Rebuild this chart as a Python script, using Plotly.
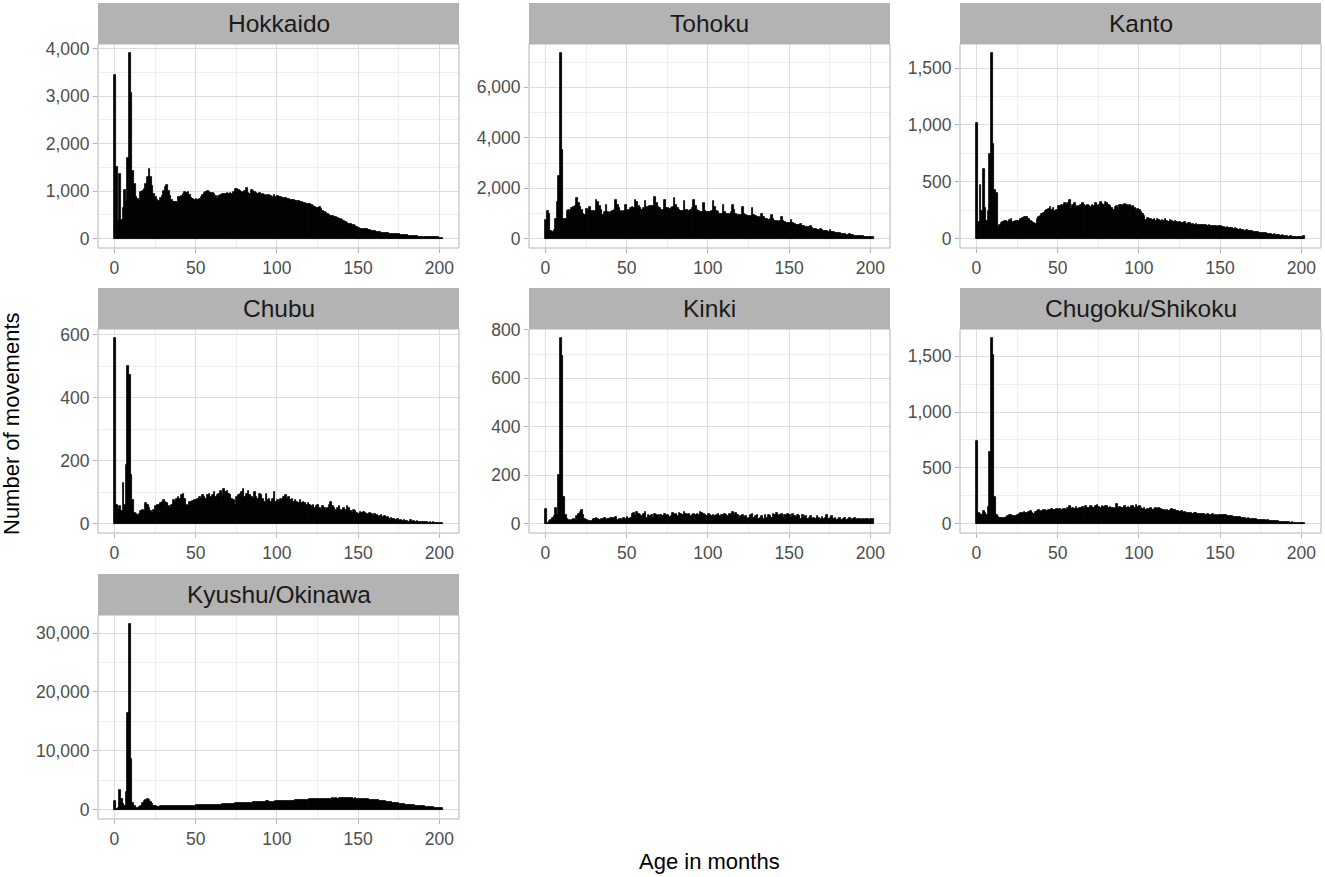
import plotly.graph_objects as go

# months of age, one bar per month (bin [m, m+1))
ages = list(range(202))

regions = ["Hokkaido", "Tohoku", "Kanto", "Chubu", "Kinki",
           "Chugoku/Shikoku", "Kyushu/Okinawa"]

hokkaido = [
    3440, 1510, 380, 1370, 390, 650, 1030, 800, 1700, 3900,
    3060, 1420, 1150, 880, 840, 800, 980, 1000, 1050, 1150,
    1300, 1460, 1300, 1100, 950, 870, 820, 800, 850, 900,
    1000, 1080, 1120, 1000, 900, 820, 780, 770, 780, 870,
    880, 900, 940, 980, 960, 990, 930, 850, 830, 820,
    830, 820, 840, 880, 920, 960, 980, 1000, 990, 970,
    960, 950, 900, 830, 900, 930, 950, 940, 950, 960,
    940, 960, 950, 980, 1050, 1040, 1020, 1000, 980, 960,
    1000, 1070, 970, 950, 1020, 1000, 980, 960, 950, 960,
    930, 940, 920, 900, 930, 910, 890, 880, 920, 870,
    890, 880, 870, 860, 850, 850, 840, 830, 820, 815,
    810, 800, 790, 790, 780, 770, 760, 760, 740, 730,
    720, 700, 690, 660, 650, 640, 660, 620, 590, 570,
    550, 530, 500, 480, 470, 460, 450, 440, 420, 410,
    400, 380, 360, 340, 320, 300, 290, 280, 260, 240,
    220, 210, 205, 200, 195, 195, 190, 180, 170, 165,
    160, 150, 145, 140, 130, 125, 120, 115, 112, 110,
    110, 105, 100, 98, 95, 90, 85, 80, 75, 72,
    70, 65, 62, 58, 55, 50, 48, 45, 42, 40,
    38, 36, 35, 34, 33, 32, 32, 30, 30, 28,
    25, 18,
]

tohoku = [
    740, 1100, 1000, 320, 270, 330, 780, 1460, 2500, 7350,
    3500, 800, 790, 1100, 1150, 1100, 1200, 1250, 1300, 1620,
    1400, 1250, 1150, 1000, 950, 1180, 1100, 1250, 1100, 1080,
    1100, 1550, 1450, 1300, 1150, 950, 1050, 1350, 1050, 1000,
    1050, 1100, 1150, 1550, 1350, 1200, 1100, 1050, 1100, 1350,
    1100, 1150, 1200, 1250, 1200, 1550, 1450, 1300, 1200, 1150,
    1200, 1500, 1250, 1250, 1300, 1280, 1300, 1650, 1400, 1250,
    1200, 1150, 1150, 1550, 1200, 1200, 1180, 1200, 1250, 1600,
    1350, 1200, 1150, 1100, 1100, 1500, 1150, 1150, 1100, 1150,
    1200, 1550, 1300, 1150, 1100, 1050, 1050, 1400, 1100, 1050,
    1050, 1050, 1100, 1500, 1250, 1100, 1050, 1000, 1000, 1350,
    1050, 1000, 1000, 1000, 1050, 1350, 1150, 1000, 950, 950,
    950, 1250, 1000, 950, 900, 900, 900, 1200, 950, 900,
    850, 850, 820, 1000, 850, 800, 780, 750, 780, 950,
    800, 720, 700, 680, 700, 880, 700, 650, 630, 620,
    620, 750, 620, 580, 560, 540, 540, 600, 520, 500,
    480, 470, 460, 500, 430, 400, 380, 360, 350, 400,
    340, 320, 300, 290, 280, 330, 270, 250, 230, 220,
    210, 240, 200, 180, 170, 160, 150, 170, 140, 130,
    120, 110, 100, 110, 95, 90, 85, 80, 75, 70,
    65, 60,
]

kanto = [
    1013, 143, 473, 240, 615, 274, 158, 245, 741, 1630,
    835, 429, 405, 105, 120, 140, 150, 155, 160, 150,
    165, 170, 150, 150, 155, 160, 160, 170, 180, 190,
    195, 190, 175, 160, 150, 140, 130, 175, 190, 200,
    220, 230, 245, 250, 260, 275, 255, 270, 240, 250,
    285, 290, 300, 290, 310, 300, 315, 340, 260, 300,
    310, 270, 290, 280, 300, 310, 295, 290, 300, 285,
    280, 300, 290, 310, 290, 300, 320, 305, 300, 325,
    310, 300, 290, 270, 250, 280, 290, 270, 300, 295,
    290, 305, 300, 290, 300, 280, 290, 270, 255, 260,
    250, 235, 220, 200, 165, 180, 175, 170, 165, 170,
    160, 170, 165, 160, 165, 155, 170, 160, 150, 165,
    155, 145, 160, 150, 140, 145, 135, 140, 145, 130,
    140, 135, 125, 130, 120, 130, 125, 120, 125, 118,
    125, 118, 112, 120, 110, 115, 108, 112, 105, 110,
    108, 100, 104, 96, 100, 95, 90, 94, 86, 90,
    82, 80, 84, 76, 78, 70, 74, 66, 70, 64,
    60, 62, 56, 58, 52, 50, 54, 46, 48, 44,
    40, 42, 36, 38, 32, 30, 33, 27, 29, 24,
    22, 24, 19, 21, 16, 16, 18, 14, 15, 13,
    15, 25,
]

chubu = [
    588, 60, 45, 55, 40, 130, 60, 185, 500, 470,
    155, 75, 35, 30, 28, 30, 40, 45, 40, 65,
    60, 50, 40, 35, 45, 55, 58, 60, 65, 70,
    75, 70, 65, 55, 50, 60, 75, 70, 80, 85,
    80, 90, 95, 80, 60, 55, 70, 70, 72, 75,
    75, 80, 85, 80, 90, 85, 80, 90, 95, 85,
    90, 100, 85, 90, 95, 105, 90, 110, 100, 105,
    95, 90, 80, 75, 60, 85, 90, 95, 100, 110,
    85, 95, 105, 90, 85, 80, 100, 85, 80, 95,
    90, 80, 70, 95, 75, 80, 70, 80, 100, 70,
    75, 70, 80, 75, 85, 90, 80, 85, 75, 80,
    70, 75, 70, 65, 75, 65, 70, 65, 60, 65,
    60, 55, 60, 50, 55, 60, 50, 45, 55, 50,
    45, 50, 60, 70, 55, 50, 45, 50, 55, 45,
    40, 50, 45, 55, 50, 40, 35, 45, 40, 35,
    30, 38, 35, 38, 35, 30, 28, 35, 30, 25,
    30, 28, 22, 25, 28, 20, 24, 18, 22, 16,
    18, 14, 16, 12, 15, 10, 12, 9, 11, 8,
    10, 7, 12, 6, 10, 5, 8, 5, 7, 4,
    6, 4, 5, 3, 6, 3, 4, 2, 3, 2,
    3, 2,
]

kinki = [
    60, 5, 10, 15, 25, 30, 65, 35, 200, 765,
    690, 110, 35, 20, 15, 12, 15, 18, 15, 30,
    40, 50, 55, 35, 20, 15, 10, 12, 10, 20,
    18, 22, 20, 15, 20, 18, 25, 15, 20, 18,
    22, 25, 20, 28, 15, 20, 18, 15, 25, 20,
    28, 20, 25, 40, 45, 30, 48, 40, 35, 30,
    42, 50, 25, 35, 30, 38, 25, 40, 35, 30,
    35, 38, 32, 40, 30, 35, 28, 30, 45, 35,
    42, 30, 45, 40, 35, 48, 40, 38, 42, 30,
    35, 40, 38, 42, 35, 50, 45, 40, 35, 30,
    40, 35, 30, 38, 32, 35, 40, 30, 35, 38,
    42, 35, 30, 40, 35, 48, 30, 45, 35, 25,
    30, 35, 25, 30, 20, 25, 35, 40, 25, 30,
    35, 20, 25, 30, 20, 35, 25, 38, 30, 25,
    40, 35, 45, 30, 35, 40, 25, 35, 30, 40,
    35, 25, 40, 30, 25, 35, 30, 20, 35, 25,
    30, 20, 25, 30, 20, 25, 20, 30, 25, 20,
    28, 20, 25, 35, 20, 25, 30, 20, 25, 15,
    20, 25, 15, 20, 25, 15, 20, 25, 15, 20,
    22, 15, 20, 18, 15, 20, 15, 18, 20, 15,
    20, 18,
]

chugoku_shikoku = [
    740, 100, 90, 80, 110, 100, 80, 150, 640, 1660,
    1510, 240, 80, 60, 50, 55, 50, 55, 60, 70,
    75, 80, 70, 65, 70, 80, 85, 95, 100, 105,
    100, 95, 105, 110, 95, 90, 105, 110, 120, 105,
    115, 120, 125, 115, 120, 125, 130, 120, 125, 130,
    120, 130, 125, 135, 130, 125, 140, 155, 130, 145,
    135, 150, 130, 145, 140, 150, 135, 155, 145, 140,
    155, 150, 145, 160, 170, 150, 145, 155, 150, 160,
    155, 145, 150, 140, 145, 135, 175, 140, 150, 145,
    140, 155, 145, 150, 140, 155, 160, 145, 165, 150,
    160, 145, 135, 140, 125, 135, 130, 140, 125, 135,
    140, 130, 140, 135, 125, 120, 115, 120, 115, 125,
    130, 125, 120, 115, 110, 105, 110, 100, 105, 100,
    95, 100, 95, 90, 95, 100, 90, 85, 90, 85,
    90, 80, 85, 75, 80, 85, 70, 75, 70, 75,
    80, 78, 75, 76, 72, 70, 68, 70, 64, 62,
    60, 56, 58, 52, 50, 52, 46, 48, 44, 42,
    40, 38, 40, 36, 34, 36, 32, 30, 28, 30,
    26, 27, 24, 22, 20, 22, 18, 17, 15, 16,
    14, 13, 12, 11, 12, 10, 9, 8, 7, 6,
    6, 5,
]

kyushu_okinawa = [
    1400, 150, 300, 3400, 1800, 900, 700, 3000, 16500, 31500,
    8700, 1100, 600, 300, 250, 400, 700, 1100, 1500, 1700,
    1750, 1650, 1300, 900, 650, 550, 500, 520, 550, 600,
    580, 620, 650, 610, 580, 550, 560, 590, 600, 580,
    600, 630, 610, 630, 620, 650, 640, 660, 690, 700,
    720, 750, 740, 760, 790, 800, 780, 810, 800, 830,
    830, 850, 830, 860, 880, 870, 900, 930, 940, 950,
    980, 1010, 1020, 1030, 1070, 1080, 1090, 1110, 1130, 1120,
    1150, 1160, 1180, 1210, 1220, 1230, 1260, 1290, 1300, 1310,
    1340, 1370, 1380, 1420, 1400, 1370, 1360, 1390, 1380, 1400,
    1400, 1420, 1410, 1440, 1460, 1450, 1480, 1510, 1520, 1530,
    1560, 1590, 1600, 1610, 1650, 1660, 1670, 1710, 1720, 1730,
    1760, 1790, 1800, 1810, 1850, 1890, 1900, 1880, 1890, 1860,
    1880, 1900, 1890, 1880, 1910, 1900, 1920, 1900, 1930, 1920,
    1940, 1920, 1930, 1920, 1940, 1920, 1930, 1900, 1910, 1880,
    1880, 1850, 1850, 1810, 1800, 1770, 1760, 1710, 1700, 1650,
    1630, 1590, 1570, 1510, 1490, 1430, 1410, 1350, 1330, 1270,
    1250, 1190, 1170, 1110, 1090, 1030, 1010, 950, 930, 870,
    850, 800, 790, 740, 730, 680, 670, 620, 610, 560,
    550, 500, 490, 440, 430, 390, 380, 350, 340, 310,
    300, 270,
]

counts = [hokkaido, tohoku, kanto, chubu, kinki, chugoku_shikoku, kyushu_okinawa]
y_steps = [1000, 2000, 500, 200, 200, 500, 10000]

W, H = 1325, 877
col_left = [98, 529, 960]
col_w = 361
row_top = [44, 329, 615]
plot_h = 204
strip_h = 41

FONT = "Liberation Sans, Arial, sans-serif"
GRID = "#DEDEDE"
MINOR = "#EEEEEE"
BORDER = "#B3B3B3"

def px(x):
    return x / W

def py(y):
    return 1 - y / H

fig = go.Figure()
layout = {}
shapes = []
annotations = []

for i, (name, vals) in enumerate(zip(regions, counts)):
    r, c = divmod(i, 3)
    n = i + 1
    fig.add_trace(go.Bar(
        x=ages, y=vals, width=1, offset=0,
        marker=dict(color="black", line=dict(color="black", width=0.8)),
        xaxis=f"x{n}", yaxis=f"y{n}", showlegend=False,
    ))
    x0, x1 = col_left[c], col_left[c] + col_w
    y0, y1 = row_top[r], row_top[r] + plot_h
    top = max(vals)
    step = y_steps[i]
    tickfont = dict(size=17.5, color="#4D4D4D", family=FONT)
    layout[f"xaxis{n}"] = dict(
        domain=[px(x0), px(x1)], anchor=f"y{n}",
        range=[-10.1, 212.1], tick0=0, dtick=50,
        showgrid=True, gridcolor=GRID, gridwidth=1,
        minor=dict(dtick=25, showgrid=True, gridcolor=MINOR, gridwidth=1),
        ticks="outside", ticklen=4, tickcolor=BORDER, tickfont=tickfont,
        zeroline=False, showline=False, fixedrange=True, automargin=False,
    )
    layout[f"yaxis{n}"] = dict(
        domain=[py(y1), py(y0)], anchor=f"x{n}",
        range=[-0.05 * top, 1.05 * top], tick0=0, dtick=step,
        tickformat=",",
        showgrid=True, gridcolor=GRID, gridwidth=1,
        minor=dict(dtick=step / 2, showgrid=True, gridcolor=MINOR, gridwidth=1),
        ticks="outside", ticklen=4, tickcolor=BORDER, tickfont=tickfont,
        zeroline=False, showline=False, fixedrange=True, automargin=False,
    )
    # panel border
    shapes.append(dict(type="rect", xref="paper", yref="paper",
                       x0=px(x0), x1=px(x1), y0=py(y1), y1=py(y0),
                       line=dict(color=BORDER, width=1), layer="above"))
    # strip
    shapes.append(dict(type="rect", xref="paper", yref="paper",
                       x0=px(x0), x1=px(x1), y0=py(y0), y1=py(y0 - strip_h),
                       fillcolor=BORDER, line=dict(width=0), layer="above"))
    annotations.append(dict(text=name, xref="paper", yref="paper",
                            x=px((x0 + x1) / 2), y=py(y0 - strip_h / 2),
                            showarrow=False, xanchor="center", yanchor="middle",
                            font=dict(size=24.5, color="#1A1A1A", family=FONT)))

annotations.append(dict(text="Age in months", xref="paper", yref="paper",
                        x=px(709.5), y=py(861), showarrow=False,
                        xanchor="center", yanchor="middle",
                        font=dict(size=22, color="black", family=FONT)))
annotations.append(dict(text="Number of movements", xref="paper", yref="paper",
                        x=px(11), y=py(424), showarrow=False, textangle=-90,
                        xanchor="center", yanchor="middle",
                        font=dict(size=22, color="black", family=FONT)))

fig.update_layout(
    width=W, height=H,
    margin=dict(l=0, r=0, t=0, b=0, pad=0, autoexpand=False),
    paper_bgcolor="white", plot_bgcolor="white",
    font=dict(family=FONT),
    shapes=shapes, annotations=annotations,
    bargap=0,
    **layout,
)

# drop the page margin so the figure sits at the window's top-left corner
fig.write_html("out.html",
               config={"displayModeBar": False},
               post_script="document.body.style.margin='0';"
                           "document.body.style.overflow='hidden';")
